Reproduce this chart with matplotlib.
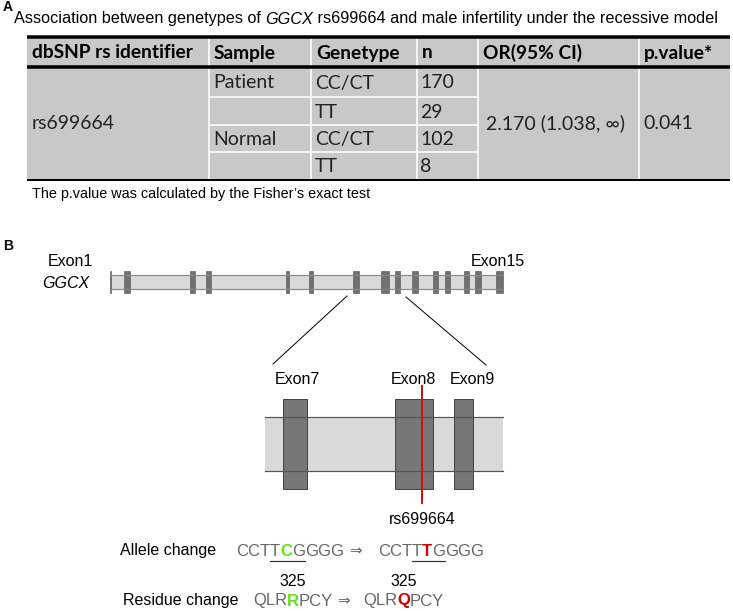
import matplotlib.pyplot as plt
from matplotlib.patches import Rectangle

# ---- table data (panel A) ----
headers = ['dbSNP rs identifier', 'Sample', 'Genetype', 'n', 'OR(95% CI)', 'p.value*']
snp_id = 'rs699664'
samples = ['Patient', '', 'Normal', '']
genotypes = ['CC/CT', 'TT', 'CC/CT', 'TT']
counts = [170, 29, 102, 8]
odds_ratio = '2.170 (1.038, \u221e)'
p_value = '0.041'

# ---- GGCX gene model (panel B) ----
exon_start = [109.5, 124, 190, 206, 286, 309, 353, 381, 395, 412, 433, 445, 464, 475, 496]
exon_end = [111, 130, 195, 211, 289, 313, 359, 389, 400, 418, 438, 450, 469, 481, 503]
zoom_labels = ['Exon7', 'Exon8', 'Exon9']
zoom_start = [283, 395, 454]
zoom_end = [307, 433, 473]
zoom_label_x = [297, 413, 472]
snp_x = 422

allele_ref = ['CCT', 'T', 'C', 'G', 'GGG']
allele_alt = ['CCT', 'T', 'T', 'G', 'GGG']
residue_ref = ['QLR', 'R', 'PCY']
residue_alt = ['QLR', 'Q', 'PCY']
residue_pos = 325

GRAY_TXT = '#666666'
GREEN = '#66dd22'
RED = '#cc0000'

fig = plt.figure(figsize=(7.33, 6.11), dpi=100)
ax = fig.add_axes([0, 0, 1, 1])
ax.set_xlim(0, 733)
ax.set_ylim(611, 0)
ax.axis('off')

px = 0.72  # one pixel in points

# ---------------- panel A ----------------
ax.text(3, 7, 'A', fontsize=10, fontweight='bold', family='Liberation Sans', va='center')
t0 = ax.text(14, 19, 'Association between genetypes of ', fontsize=11.7, family='Liberation Sans',
             va='center')
t = ax.annotate('GGCX', xy=(1, 0), xycoords=t0, va='bottom', fontsize=11.7,
                family='Liberation Sans', style='italic')
ax.annotate(' rs699664 and male infertility under the recessive model', xy=(1, 0), xycoords=t,
            va='bottom', fontsize=11.7, family='Liberation Sans')

col_x = [27, 209, 311, 417, 478, 639, 730]
row_y = [37, 67, 97, 125, 152, 180]
cell_gray = '#c8c8c8'

ax.add_patch(Rectangle((col_x[0], row_y[0]), col_x[-1] - col_x[0], row_y[-1] - row_y[0],
                       facecolor=cell_gray, edgecolor='none'))
# white cell separators
for x in col_x[1:-1]:
    ax.plot([x, x], [row_y[0], row_y[-1]], color='white', lw=1.6 * px)
for y in row_y[2:-1]:
    ax.plot([col_x[1], col_x[4]], [y, y], color='white', lw=1.6 * px)
# black rules
ax.plot([col_x[0], col_x[-1]], [row_y[0], row_y[0]], color='black', lw=3.5 * px, solid_capstyle='butt')
ax.plot([col_x[0], col_x[-1]], [row_y[1], row_y[1]], color='black', lw=3.5 * px, solid_capstyle='butt')
ax.plot([col_x[0], col_x[-1]], [row_y[-1], row_y[-1]], color='black', lw=2 * px, solid_capstyle='butt')

for i, h in enumerate(headers):
    ax.text(col_x[i] + 5, (row_y[0] + row_y[1]) / 2 + 1, h, fontsize=13.8, fontweight='bold',
            family='Lato', va='center')

body = dict(fontsize=14, family='Lato', color='#222222', va='center')
mid = (row_y[1] + row_y[-1]) / 2
ax.text(col_x[0] + 5, mid, snp_id, **body)
ax.text(col_x[4] + 8, mid, odds_ratio, **body)
ax.text(col_x[5] + 4, mid, p_value, **body)
for r in range(4):
    yc = (row_y[r + 1] + row_y[r + 2]) / 2 + 1
    ax.text(col_x[1] + 4, yc, samples[r], **body)
    ax.text(col_x[2] + 4, yc, genotypes[r], **body)
    ax.text(col_x[3] + 3, yc, str(counts[r]), **body)

ax.text(32, 194, "The p.value was calculated by the Fisher\u2019s exact test", fontsize=10.4,
        family='Liberation Sans', va='center')

# ---------------- panel B ----------------
ax.text(3, 246, 'B', fontsize=10, fontweight='bold', family='Liberation Sans', va='center')
ax.text(48, 262, 'Exon1', fontsize=11.5, family='Liberation Sans', va='center')
ax.text(471, 262, 'Exon15', fontsize=11.5, family='Liberation Sans', va='center')
ax.text(42, 284, 'GGCX', fontsize=11.5, family='Liberation Sans', style='italic', va='center')

# full gene
ax.add_patch(Rectangle((exon_start[0], 275), exon_end[-1] - exon_start[0], 14,
                       facecolor='#d9d9d9', edgecolor='none'))
ax.plot([exon_start[0], exon_end[-1]], [275, 275], color='#888888', lw=1.2 * px)
ax.plot([exon_start[0], exon_end[-1]], [289, 289], color='#888888', lw=1.2 * px)
for s, e in zip(exon_start, exon_end):
    ax.add_patch(Rectangle((s, 271), e - s, 22, facecolor='#707070', edgecolor='#555555', lw=0.6 * px))

# zoom lines
ax.plot([347, 273], [296, 364], color='black', lw=1 * px)
ax.plot([406, 486], [297, 365], color='black', lw=1 * px)

# zoomed region exon7-exon9
ax.add_patch(Rectangle((265, 417), 238, 54, facecolor='#d9d9d9', edgecolor='none'))
ax.plot([265, 503], [417, 417], color='#555555', lw=1.2 * px)
ax.plot([265, 503], [471, 471], color='#555555', lw=1.2 * px)
for lab, s, e, lx in zip(zoom_labels, zoom_start, zoom_end, zoom_label_x):
    ax.add_patch(Rectangle((s, 399), e - s, 90, facecolor='#777777', edgecolor='#444444', lw=1 * px))
    ax.text(lx, 379, lab, fontsize=11.5, family='Liberation Sans', ha='center', va='center')
ax.plot([snp_x, snp_x], [386, 503], color='#cc1111', lw=2 * px)
ax.text(snp_x, 519, snp_id, fontsize=11.5, family='Liberation Sans', ha='center', va='center')


def seq_text(x, y, parts, colors, weights):
    arts = []
    prev = ax.text(x, y, parts[0], fontsize=12, family='Liberation Sans', color=colors[0],
                   fontweight=weights[0], va='center')
    arts.append(prev)
    for p, c, w in zip(parts[1:], colors[1:], weights[1:]):
        a = ax.annotate(p, xy=(1, 0), xycoords=prev, va='bottom', fontsize=12,
                        family='Liberation Sans', color=c, fontweight=w)
        arts.append(a)
        prev = a
    return arts


ax.text(120, 551, 'Allele change', fontsize=11.5, family='Liberation Sans', va='center')
ref_a = seq_text(236, 551, allele_ref, [GRAY_TXT, GRAY_TXT, GREEN, GRAY_TXT, GRAY_TXT],
                 ['normal', 'normal', 'bold', 'normal', 'normal'])
ax.text(355, 551, '\u21d2', fontsize=11, family='DejaVu Sans', color=GRAY_TXT, ha='center', va='center')
alt_a = seq_text(378, 551, allele_alt, [GRAY_TXT, GRAY_TXT, RED, GRAY_TXT, GRAY_TXT],
                 ['normal', 'normal', 'bold', 'normal', 'normal'])

ax.text(123, 601, 'Residue change', fontsize=11.5, family='Liberation Sans', va='center')
ref_r = seq_text(253, 601, residue_ref, [GRAY_TXT, GREEN, GRAY_TXT], ['normal', 'bold', 'normal'])
ax.text(343, 601, '\u21d2', fontsize=11, family='DejaVu Sans', color=GRAY_TXT, ha='center', va='center')
alt_r = seq_text(363, 601, residue_alt, [GRAY_TXT, RED, GRAY_TXT], ['normal', 'bold', 'normal'])

fig.canvas.draw()
inv = ax.transData.inverted()


def extent(art):
    bb = art.get_window_extent()
    (x0, _), (x1, _) = inv.transform([(bb.x0, bb.y0), (bb.x1, bb.y1)])
    return x0, x1


for arts in (ref_a, alt_a):
    x0 = extent(arts[1])[0]
    x1 = extent(arts[3])[1]
    ax.plot([x0, x1], [561, 561], color='#333333', lw=1.2 * px)

for arts in (ref_r, alt_r):
    x0, x1 = extent(arts[1])
    ax.text((x0 + x1) / 2, 582, str(residue_pos), fontsize=11.5, family='Liberation Sans',
            ha='center', va='center')

fig.savefig('out.png', dpi=100)
